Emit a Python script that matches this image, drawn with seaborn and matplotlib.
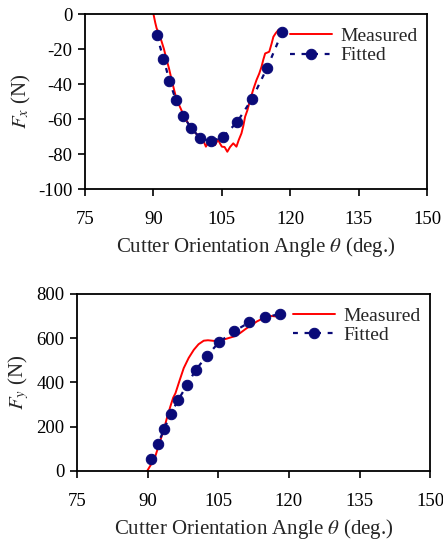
import pandas as pd
import seaborn as sns
import matplotlib.pyplot as plt

# measured Fx curve
meas_fx_theta = [90.0, 90.4, 90.7, 91.2, 91.8, 92.3, 92.9, 93.4, 94.0, 94.5, 95.1, 95.8, 96.6,
                 97.5, 98.4, 99.2, 100.2, 100.9, 101.5, 101.9, 102.4, 102.9, 103.5, 103.9,
                 104.2, 104.6, 105.0, 105.6, 106.2, 106.8, 107.5, 107.9, 108.2, 108.7, 109.3,
                 109.7, 110.1, 110.6, 111.2, 111.9, 112.6, 113.2, 113.7, 114.1, 114.5, 115.0,
                 115.4, 115.9, 116.3, 116.8, 117.4, 117.8]
meas_fx = [0, -5, -8.2, -11, -15.8, -20, -26.3, -31, -37.7, -43, -49.1, -53, -57.7,
           -62, -65.3, -68, -70.1, -72, -75.8, -74, -73.0, -74.5, -74.9, -73,
           -72, -74, -75.8, -76, -78.7, -76, -73.9, -75, -75.8, -72, -68.2,
           -64, -58.7, -55, -49.1, -43, -37.7, -34, -30.1, -26, -22.5, -22,
           -21.5, -17, -13, -11, -9.1, -9.5]

# measured Fy curve
meas_fy_theta = [89.9, 90.6, 91.6, 92.5, 93.4, 94.1, 94.8, 95.4, 95.9, 96.8, 97.65, 98.7,
                 99.8, 100.8, 101.9, 102.8, 103.7, 104.6, 105.4, 106.9, 108.3, 109.6, 110.8,
                 112.0, 113.2, 114.6, 116.1, 117.0, 117.8]
meas_fy = [0, 25, 65, 125, 185, 240, 290, 330, 351, 410, 464, 510,
           547, 572, 588, 590, 588, 586, 589, 598, 607, 622, 641,
           658, 675, 690, 700, 698, 700]

# fitted model points
fit_theta = [90.7, 92.2, 93.5, 94.9, 96.5, 98.3, 100.2, 102.6, 105.2, 108.3, 111.6, 114.9, 118.2]
fit_fx = [-11.8, -25.5, -38.1, -49.1, -58.1, -65.3, -70.7, -72.8, -70.3, -61.9, -48.6, -30.9, -10.5]
fit_fy = [54, 122, 190, 258, 321, 386, 456, 520, 582, 630, 671, 695, 708]

x_ticks = [75, 90, 105, 120, 135, 150]

sns.set_style("ticks")
plt.rcParams['font.family'] = ['Liberation Serif', 'DejaVu Serif']
plt.rcParams['mathtext.fontset'] = 'stix'
plt.rcParams['axes.unicode_minus'] = False

fig = plt.figure(figsize=(4.43, 5.4), dpi=100)
ax1 = fig.add_axes([0.192, 0.650, 0.772, 0.324])
ax2 = fig.add_axes([0.174, 0.128, 0.797, 0.328])

navy = "#0a0a78"


def draw(ax, m_theta, m_val, f_val, ylim, yticks, ylabel):
    dm = pd.DataFrame({"theta": m_theta, "val": m_val})
    df = pd.DataFrame({"theta": fit_theta, "val": f_val})
    sns.lineplot(data=dm, x="theta", y="val", ax=ax, color="red", lw=1.4,
                 label="Measured")
    sns.lineplot(data=df, x="theta", y="val", ax=ax, color=navy, lw=1.6,
                 linestyle=(0, (2.2, 3)), marker="o", markersize=7.5,
                 markeredgecolor=navy, label="Fitted")
    ax.set_xlim(75, 150)
    ax.set_xticks(x_ticks)
    ax.set_ylim(*ylim)
    ax.set_yticks(yticks)
    for s in ax.spines.values():
        s.set_visible(True)
        s.set_linewidth(1.3)
        s.set_color("black")
    ax.tick_params(direction="out", length=5, width=1.2, labelsize=13.5,
                   colors="black", pad=4)
    ax.tick_params(axis="x", pad=11)
    ax.set_xlabel(r"Cutter Orientation Angle $\theta$ (deg.)", fontsize=15, labelpad=5)
    ax.set_ylabel(ylabel, fontsize=15, labelpad=4)
    ax.legend(loc="upper right", bbox_to_anchor=(1.0, 0.98), frameon=False, fontsize=14,
              handlelength=2.2, borderaxespad=0.1, labelspacing=0.1,
              handletextpad=0.4)


draw(ax1, meas_fx_theta, meas_fx, fit_fx, (-100, 0), range(-100, 1, 20), r"$F_x$ (N)")
draw(ax2, meas_fy_theta, meas_fy, fit_fy, (0, 800), range(0, 801, 200), r"$F_y$ (N)")

fig.savefig("out.png", dpi=100)
